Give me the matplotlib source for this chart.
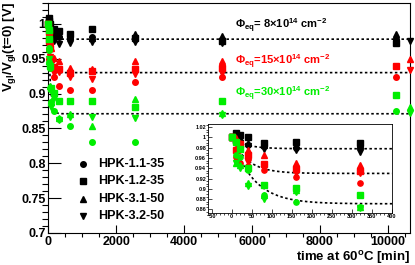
import numpy as np
import matplotlib.pyplot as plt

plt.rcParams['font.family'] = 'Liberation Sans'
plt.rcParams['font.weight'] = 'bold'
plt.rcParams['mathtext.fontset'] = 'custom'
plt.rcParams['mathtext.rm'] = 'Liberation Sans:bold'
plt.rcParams['mathtext.it'] = 'Liberation Sans:bold'
plt.rcParams['mathtext.bf'] = 'Liberation Sans:bold'
plt.rcParams['mathtext.default'] = 'rm'

# annealing times [min]
t_early = [0, 10, 20, 40, 80, 160, 320, 640, 1280, 2560, 5120]
t_a = t_early + [10240]
t_b = t_early + [10650]

# Vgl/Vgl(t=0), fluence 8e14
v8_c = [1.0, 0.998, 0.993, 0.985, 0.983, 0.980, 0.981, 0.979, 0.981, 0.978, 0.977, 0.978]
v8_s = [1.0, 1.008, 1.004, 1.000, 0.989, 0.992, 0.989, 0.986, 0.993, 0.979, 0.975, 0.972]
v8_u = [1.0, 0.999, 0.995, 0.990, 0.985, 0.986, 0.985, 0.982, 0.980, 0.985, 0.983, 0.9856]
v8_d = [1.0, 0.997, 0.990, 0.983, 0.978, 0.975, 0.971, 0.9725, 0.974, 0.974, 0.972, 0.976]
# fluence 15e14
v15_c = [1.0, 0.962, 0.950, 0.945, 0.936, 0.9235, 0.911, 0.905, 0.905, 0.917, 0.923, 0.923]
v15_s = [1.0, 0.975, 0.988, 0.966, 0.949, 0.938, 0.935, 0.929, 0.933, 0.935, 0.937, 0.940]
v15_u = [1.0, 0.998, 0.990, 0.975, 0.966, 0.951, 0.946, 0.936, 0.935, 0.946, 0.946, 0.9497]
v15_d = [1.0, 0.990, 0.975, 0.953, 0.943, 0.930, 0.931, 0.924, 0.921, 0.928, 0.930, 0.934]
# fluence 30e14
v30_c = [1.0, 0.966, 0.962, 0.936, 0.888, 0.875, 0.864, 0.853, 0.831, 0.831, 0.831, 0.875]
v30_s = [1.0, 0.9915, 0.978, 0.940, 0.9075, 0.901, 0.889, 0.889, 0.889, 0.881, 0.889, 0.898]
v30_u = [1.0, 0.950, 0.946, 0.911, 0.888, 0.897, 0.865, 0.871, 0.853, 0.892, 0.872, 0.880]
v30_d = [1.0, 0.950, 0.940, 0.905, 0.880, 0.894, 0.862, 0.867, 0.867, 0.865, 0.869, 0.872]

# exponential fits a + (1-a) exp(-t/tau)
fit_a = [0.978, 0.930, 0.871]
fit_tau = [35, 40, 55]

colors = ['black', 'red', '#00ee00']
sensors = ['HPK-1.1-35', 'HPK-1.2-35', 'HPK-3.1-50', 'HPK-3.2-50']
markers = ['o', 's', '^', 'v']
msizes = [4, 3.8, 4.5, 4.5]
data = [[v8_c, v8_s, v8_u, v8_d], [v15_c, v15_s, v15_u, v15_d], [v30_c, v30_s, v30_u, v30_d]]
times = [[t_a, t_a, t_a, t_b], [t_a, t_a, t_b, t_b], [t_a, t_a, t_b, t_b]]

fig = plt.figure(figsize=(4.15, 2.65), dpi=100)
ax = fig.add_axes([0.1165, 0.121, 0.8715, 0.868])
ins = fig.add_axes([0.5, 0.196, 0.444, 0.336])

tfit = np.concatenate([np.linspace(0, 400, 400), np.linspace(400, 10650, 100)])

for a in [ax, ins]:
    for f in range(3):
        for k in range(4):
            a.plot(times[f][k], data[f][k], ls='none', marker=markers[k], ms=msizes[k] * (1 if a is ax else 0.95),
                   color=colors[f], mec=colors[f], clip_on=(a is ins), zorder=3)
        a.plot(tfit, fit_a[f] + (1 - fit_a[f]) * np.exp(-tfit / fit_tau[f]), color='black',
               ls=(0, (1.5, 1.5)), lw=1.2, zorder=2)

ax.set_xlim(0, 10650)
ax.set_ylim(0.7, 1.03)
ax.set_xticks([0, 2000, 4000, 6000, 8000, 10000])
ax.set_xticks(np.arange(0, 10650, 500), minor=True)
ax.set_yticks([0.7, 0.75, 0.8, 0.85, 0.9, 0.95, 1.0])
ax.set_yticklabels(['0.7', '0.75', '0.8', '0.85', '0.9', '0.95', '1'])
ax.set_yticks(np.arange(0.7, 1.03, 0.01), minor=True)
ax.tick_params(direction='in', labelsize=9, pad=2)
ax.tick_params(axis='y', which='major', length=9, width=0.8)
ax.tick_params(axis='y', which='minor', length=4.5, width=0.8)
ax.tick_params(axis='x', which='major', length=6, width=0.8)
ax.tick_params(axis='x', which='minor', length=3, width=0.8)
for s in ax.spines.values():
    s.set_linewidth(0.8)

fig.text(0.024, 0.99, 'V$_{gl}$/V$_{gl}$(t=0) [V]', rotation=90, ha='center', va='top', fontsize=9.5)
fig.text(0.988, 0.028, 'time at 60$^{\\rm o}$C [min]', ha='right', va='center', fontsize=9.5)

ax.text(5500, 0.997, '$\\Phi_{eq}$= 8$\\times$10$^{14}$ cm$^{-2}$', color='black', fontsize=8, va='center')
ax.text(5500, 0.946, '$\\Phi_{eq}$=15$\\times$10$^{14}$ cm$^{-2}$', color='red', fontsize=8, va='center')
ax.text(5500, 0.899, '$\\Phi_{eq}$=30$\\times$10$^{14}$ cm$^{-2}$', color='#00ee00', fontsize=8, va='center')

# legend entries (black markers), placed in axes fraction
for k in range(4):
    yk = 0.300 - 0.0752 * k
    ax.plot([0.096], [yk], transform=ax.transAxes, ls='none', marker=markers[k], ms=msizes[k], color='black')
    ax.text(0.137, yk, sensors[k], transform=ax.transAxes, va='center', ha='left', fontsize=9)

ins.set_xlim(-60, 400)
ins.set_ylim(0.853, 1.026)
ins.set_xticks(np.arange(-50, 401, 50))
ins.set_xticks(np.arange(-60, 401, 10), minor=True)
ins.set_yticks([0.86, 0.88, 0.9, 0.92, 0.94, 0.96, 0.98, 1.0, 1.02])
ins.set_yticklabels(['0.86', '0.88', '0.9', '0.92', '0.94', '0.96', '0.98', '1', '1.02'])
ins.set_yticks(np.arange(0.855, 1.026, 0.005), minor=True)
ins.tick_params(direction='in', labelsize=4, pad=1, length=3, width=0.5)
ins.tick_params(which='minor', length=1.5, width=0.5)
for s in ins.spines.values():
    s.set_linewidth(0.6)

fig.savefig('out.png', dpi=100)
